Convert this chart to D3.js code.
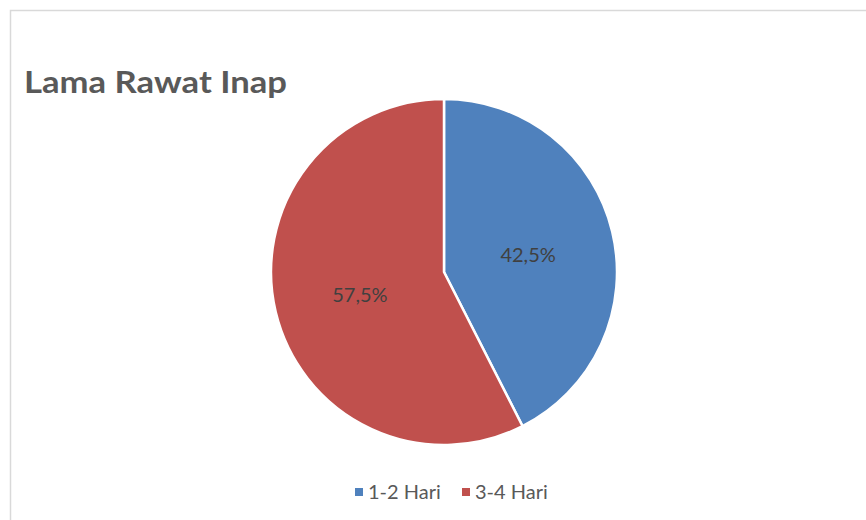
<!DOCTYPE html>
<html><head><meta charset="utf-8">
<script src="https://cdn.jsdelivr.net/npm/d3@7"></script>
<style>body{margin:0;background:#fff}svg{display:block}</style>
</head><body>
<script>
const categories = ["1-2 Hari", "3-4 Hari"];
const values = [42.5, 57.5];
const labels = ["42,5%", "57,5%"];
const colors = ["#4F81BD", "#C0504D"];
const title = "Lama Rawat Inap";

const W = 866, H = 520;
const svg = d3.select("body").append("svg").attr("width", W).attr("height", H);
svg.append("rect").attr("x", 10.5).attr("y", 10.5).attr("width", W).attr("height", H)
  .attr("fill", "#fff").attr("stroke", "#D9D9D9").attr("stroke-width", 1.5);

svg.append("text").attr("x", 24).attr("y", 93).text(title)
  .attr("font-family", "Lato, 'Open Sans', sans-serif").attr("font-weight", "bold")
  .attr("font-size", 30).attr("fill", "#595959")
  .attr("textLength", 263).attr("lengthAdjust", "spacingAndGlyphs");

const cx = 444, cy = 272, r = 173;
const pie = d3.pie().sort(null).value(d => d)(values);
const arc = d3.arc().innerRadius(0).outerRadius(r);
const labelArc = d3.arc().innerRadius(r / 2).outerRadius(r / 2);
const g = svg.append("g").attr("transform", `translate(${cx},${cy})`);
g.selectAll("path").data(pie).join("path").attr("d", arc)
  .attr("fill", (d, i) => colors[i]).attr("stroke", "#fff").attr("stroke-width", 2.5);
g.selectAll("text").data(pie).join("text")
  .attr("transform", d => { const c = labelArc.centroid(d); return `translate(${c[0]},${c[1] + 2})`; })
  .attr("text-anchor", "middle").attr("dominant-baseline", "central")
  .attr("font-family", "Lato, 'Open Sans', sans-serif").attr("font-size", 20)
  .attr("fill", "#404040").text((d, i) => labels[i]);

const legendX = [355, 462];
const lg = svg.append("g");
categories.forEach((c, i) => {
  lg.append("rect").attr("x", legendX[i]).attr("y", 488).attr("width", 8).attr("height", 8).attr("fill", colors[i]);
  lg.append("text").attr("x", legendX[i] + 13).attr("y", 499).text(c)
    .attr("font-family", "Lato, 'Open Sans', sans-serif").attr("font-size", 20).attr("fill", "#595959");
});
</script>
</body></html>
